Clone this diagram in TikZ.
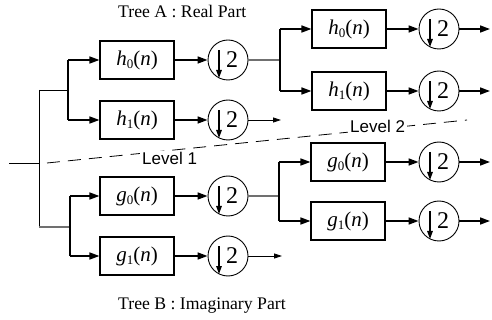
\documentclass[tikz,border=0pt]{standalone}
\usepackage{fontspec}
\setmainfont{Liberation Serif}
\newfontfamily\lvfont{Liberation Sans}
\usetikzlibrary{arrows.meta}
\definecolor{linegray}{HTML}{707070}
\newcommand\filtlabel[2]{{\itshape #1}\raisebox{-0.35ex}{\fontsize{13}{14}\selectfont #2}({\itshape n})}
\begin{document}
\begin{tikzpicture}[x=1pt,y=-1pt,
  filt/.style={draw,line width=1.1pt,minimum width=74pt,minimum height=38pt,inner sep=0pt,font=\fontsize{21}{24}\selectfont},
  dec/.style={draw,circle,line width=0.9pt,minimum size=40pt,inner sep=0pt,font=\fontsize{24}{26}\selectfont,
    path picture={\draw[line width=1.3pt,-{Triangle[length=8pt,width=5.5pt]}]
      ([shift={(-9pt,10pt)}]path picture bounding box.center) -- ([shift={(-9pt,-18pt)}]path picture bounding box.center);}},
  thk/.style={line width=1.6pt,-{Triangle[length=10pt,width=7pt]}},
  thn/.style={line width=0.8pt,-{Triangle[length=8pt,width=5pt]}},
  wire/.style={line width=0.8pt},
  split/.style={line width=1.2pt},
  gwire/.style={line width=1.1pt,draw=linegray},
  ttl/.style={font=\fontsize{17.7}{20}\selectfont,anchor=base west,inner sep=0pt},
  lvl/.style={font=\lvfont\fontsize{17}{20}\selectfont,anchor=base west,fill=white,inner sep=2pt},
]
\useasboundingbox (0,0) rectangle (492,320);

% titles
\node[ttl] (ta) at (118,18) {Tree A : Real Part};
\node[ttl] (tb) at (118,309) {Tree B : Imaginary Part};

% level separator
\coordinate (d1) at (47,163);
\coordinate (d2) at (467,120);
\draw[line width=0.8pt,dash pattern=on 13pt off 8pt] (d1) -- (d2);
\node[lvl] (l1) at (140,165) {Level 1};
\node[lvl] (l2) at (348,133) {Level 2};

% level 1 filters
\node[filt] (h0) at (137,60) {\filtlabel{h}{0}};
\node[filt] (h1) at (137,120) {\filtlabel{h}{1}};
\node[filt] (g0) at (137,196) {\filtlabel{g}{0}};
\node[filt] (g1) at (137,256) {\filtlabel{g}{1}};
\node[dec] (ch0) at (228,60) {\hspace*{8pt}2};
\node[dec] (ch1) at (228,120) {\hspace*{8pt}2};
\node[dec] (cg0) at (228,196) {\hspace*{8pt}2};
\node[dec] (cg1) at (228,256) {\hspace*{8pt}2};

% level 2 filters
\node[filt] (hh0) at (349,29) {\filtlabel{h}{0}};
\node[filt] (hh1) at (349,91) {\filtlabel{h}{1}};
\node[filt] (gg0) at (348,162) {\filtlabel{g}{0}};
\node[filt] (gg1) at (348,221) {\filtlabel{g}{1}};
\node[dec] (chh0) at (439,29) {\hspace*{8pt}2};
\node[dec] (chh1) at (439,91) {\hspace*{8pt}2};
\node[dec] (cgg0) at (439,162) {\hspace*{8pt}2};
\node[dec] (cgg1) at (439,221) {\hspace*{8pt}2};

% input tree
\coordinate (in) at (9,163);
\coordinate (root) at (39,163);
\coordinate (rt) at (39,90);
\coordinate (rb) at (39,227);
\coordinate (hs) at (68,90);
\coordinate (gs) at (70,227);
\draw[wire] (in) -- (root);
\draw[wire] (rt) -- (rb);
\draw[wire] (rt) -- (hs);
\draw[gwire] (rb) -- (gs);
\draw[split] (hs |- h0) -- (hs |- h1);
\draw[split] (gs |- g0) -- (gs |- g1);
\draw[thk] (hs |- h0) -- (h0);
\draw[thk] (hs |- h1) -- (h1);
\draw[thk] (gs |- g0) -- (g0);
\draw[thk] (gs |- g1) -- (g1);

% filter to decimator, level 1
\draw[thk] (h0) -- (ch0);
\draw[thk] (h1) -- (ch1);
\draw[thk] (g0) -- (cg0);
\draw[thk] (g1) -- (cg1);

% level 1 outputs
\coordinate (oh1) at (281,120);
\coordinate (og1) at (282,256);
\draw[thn] (ch1) -- (oh1);
\draw[thn] (cg1) -- (og1);

% level 2 splits
\coordinate (hs2) at (280,60);
\coordinate (gs2) at (279,196);
\draw[gwire] (ch0) -- (hs2);
\draw[gwire] (cg0) -- (gs2);
\draw[split] (hs2 |- hh0) -- (hs2 |- hh1);
\draw[split] (gs2 |- gg0) -- (gs2 |- gg1);
\draw[thk] (hs2 |- hh0) -- (hh0);
\draw[thk] (hs2 |- hh1) -- (hh1);
\draw[thk] (gs2 |- gg0) -- (gg0);
\draw[thk] (gs2 |- gg1) -- (gg1);

% filter to decimator, level 2
\draw[thk] (hh0) -- (chh0);
\draw[thk] (hh1) -- (chh1);
\draw[thk] (gg0) -- (cgg0);
\draw[thk] (gg1) -- (cgg1);

% level 2 outputs
\coordinate (o1) at (490,29);
\coordinate (o2) at (490,91);
\coordinate (o3) at (490,162);
\coordinate (o4) at (490,221);
\draw[thk] (chh0) -- (o1);
\draw[thk] (chh1) -- (o2);
\draw[thk] (cgg0) -- (o3);
\draw[thk] (cgg1) -- (o4);
\end{tikzpicture}
\end{document}
